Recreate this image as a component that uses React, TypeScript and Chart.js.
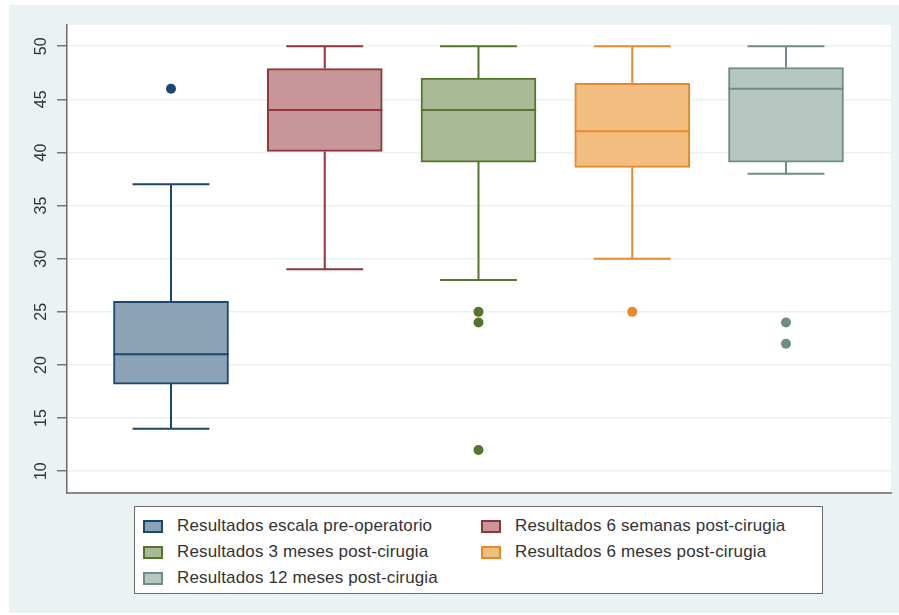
import React, { useEffect, useRef } from "react";
import { Chart, registerables } from "chart.js";

Chart.register(...registerables);

const CATEGORIES = [
  "Resultados escala pre-operatorio",
  "Resultados 6 semanas post-cirugia",
  "Resultados 3 meses post-cirugia",
  "Resultados 6 meses post-cirugia",
  "Resultados 12 meses post-cirugia",
];
const WHISKER_LOW = [14, 29, 28, 30, 38];
const Q1 = [18.2, 40.1, 39.1, 38.6, 39.1];
const MEDIAN = [21, 44, 44, 42, 46];
const Q3 = [26, 47.9, 47, 46.5, 48];
const WHISKER_HIGH = [37, 50, 50, 50, 50];
const OUTLIERS = [[46], [], [25, 24, 12], [25], [24, 22]];
const Y_TICKS = [10, 15, 20, 25, 30, 35, 40, 45, 50];

const STROKES = ["#1a476f", "#90353b", "#55752f", "#e6892f", "#6e8e84"];
const FILLS = ["#8ca3b7", "#c8969a", "#aaba97", "#f1be7f", "#b6c6c1"];

const FONT = "'Liberation Sans', Arial, sans-serif";
const BOX_HALF = 0.375;
const CAP_HALF = 0.25;

const bgPlugin = {
  id: "bgPlugin",
  beforeDraw(chart: any) {
    const { ctx, chartArea } = chart;
    ctx.save();
    ctx.fillStyle = "#ffffff";
    ctx.fillRect(0, 0, chart.width, chart.height);
    ctx.fillStyle = "#eaf2f3";
    ctx.fillRect(9, 5, chart.width - 9, 608);
    ctx.fillStyle = "#ffffff";
    ctx.fillRect(chartArea.left, chartArea.top, chartArea.right - chartArea.left, chartArea.bottom - chartArea.top);
    ctx.restore();
  },
};

const yLabelPlugin = {
  id: "yLabelPlugin",
  afterDraw(chart: any) {
    const { ctx } = chart;
    const y = chart.scales.y;
    ctx.save();
    ctx.fillStyle = "#333333";
    ctx.font = `16px ${FONT}`;
    ctx.textAlign = "center";
    ctx.textBaseline = "middle";
    y.ticks.forEach((t: any) => {
      const py = y.getPixelForValue(t.value);
      ctx.save();
      ctx.translate(42, py);
      ctx.rotate(-Math.PI / 2);
      ctx.fillText(String(t.value), 0, 0);
      ctx.restore();
    });
    ctx.restore();
  },
};

export default function App() {
  const ref = useRef<HTMLCanvasElement | null>(null);

  useEffect(() => {
    if (!ref.current) return;
    const lineSets = CATEGORIES.map((name, i) => {
      const x = i + 1;
      const gap = { x, y: null };
      return {
        type: "line",
        label: name + " whiskers",
        data: [
          { x: x - CAP_HALF, y: WHISKER_HIGH[i] },
          { x: x + CAP_HALF, y: WHISKER_HIGH[i] },
          gap,
          { x, y: WHISKER_HIGH[i] },
          { x, y: Q3[i] },
          gap,
          { x, y: Q1[i] },
          { x, y: WHISKER_LOW[i] },
          gap,
          { x: x - CAP_HALF, y: WHISKER_LOW[i] },
          { x: x + CAP_HALF, y: WHISKER_LOW[i] },
          gap,
          { x: x - BOX_HALF, y: MEDIAN[i] },
          { x: x + BOX_HALF, y: MEDIAN[i] },
        ],
        borderColor: STROKES[i],
        borderWidth: 2,
        pointRadius: 0,
        spanGaps: false,
        fill: false,
        order: 0,
      };
    });
    const outlierData: any[] = [];
    const outlierColors: string[] = [];
    OUTLIERS.forEach((arr, i) => {
      arr.forEach((v) => {
        outlierData.push({ x: i + 1, y: v });
        outlierColors.push(STROKES[i]);
      });
    });

    const chart = new Chart(ref.current, {
      type: "bar",
      data: {
        datasets: [
          ...lineSets,
          {
            type: "scatter",
            label: "outliers",
            data: outlierData,
            pointRadius: 5,
            pointBackgroundColor: outlierColors,
            pointBorderColor: outlierColors,
            pointBorderWidth: 0,
            order: 0,
          },
          {
            type: "bar",
            label: "boxes",
            data: CATEGORIES.map((_, i) => ({ x: i + 1, y: [Q1[i], Q3[i]] })),
            backgroundColor: FILLS,
            borderColor: STROKES,
            borderWidth: 2,
            borderSkipped: false,
            barThickness: 115,
            order: 2,
          },
        ] as any,
      },
      options: {
        responsive: false,
        animation: false,
        events: [],
        layout: { padding: { left: 57, top: 25, right: 8, bottom: 122 } },
        plugins: { legend: { display: false }, tooltip: { enabled: false } },
        scales: {
          x: {
            type: "linear",
            min: 0.3236,
            max: 5.683,
            offset: false,
            grid: { display: false, drawTicks: false },
            ticks: { display: false },
            border: { display: true, color: "#8a8a8a", width: 2 },
          },
          y: {
            type: "linear",
            min: 7.95,
            max: 52,
            afterBuildTicks: (scale: any) => {
              scale.ticks = Y_TICKS.map((value) => ({ value }));
            },
            grid: { color: "#e9f1f2", lineWidth: 1.5, tickColor: "#777777", tickLength: 10, drawTicks: true },
            ticks: { display: false },
            border: { display: true, color: "#6a6a6a", width: 1.5 },
          },
        },
      } as any,
      plugins: [bgPlugin, yLabelPlugin],
    });
    return () => chart.destroy();
  }, []);

  return (
    <div style={{ position: "absolute", left: 0, top: 0, width: 899, height: 615, fontFamily: FONT }}>
      <canvas ref={ref} width={899} height={615} style={{ position: "absolute", left: 0, top: 0, width: 899, height: 615 }} />
      <div
        style={{
          position: "absolute",
          left: 134,
          top: 506,
          width: 687,
          height: 86,
          border: "1.5px solid #6a6a6a",
          background: "#ffffff",
        }}
      >
        {CATEGORIES.map((name, i) => {
          const row = Math.floor(i / 2);
          const col = i % 2;
          const top = 19 + row * 26;
          const left = col === 0 ? 8 : 346;
          return (
            <div key={name} style={{ position: "absolute", left, top: top - 10, height: 20, display: "flex", alignItems: "center", whiteSpace: "nowrap" }}>
              <span
                style={{
                  display: "inline-block",
                  width: 16,
                  height: 9,
                  background: FILLS[i],
                  border: `2px solid ${STROKES[i]}`,
                  marginRight: 14,
                }}
              />
              <span style={{ fontSize: 17, letterSpacing: "0.15px", color: "#333333", lineHeight: "20px" }}>{name}</span>
            </div>
          );
        })}
      </div>
    </div>
  );
}
